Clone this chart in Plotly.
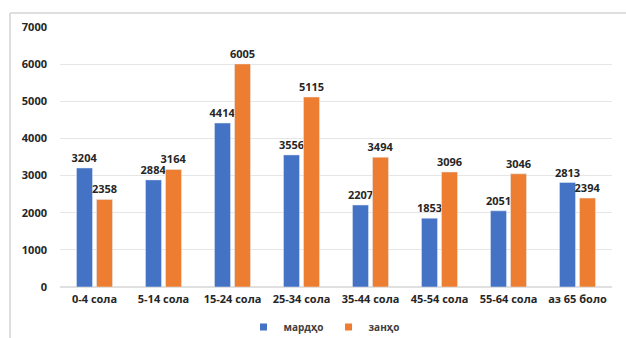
import plotly.graph_objects as go

categories = ["0-4 сола", "5-14 сола", "15-24 сола", "25-34 сола",
              "35-44 сола", "45-54 сола", "55-64 сола", "аз 65 боло"]
men = [3204, 2884, 4414, 3556, 2207, 1853, 2051, 2813]
women = [2358, 3164, 6005, 5115, 3494, 3096, 3046, 2394]
y_ticks = [0, 1000, 2000, 3000, 4000, 5000, 6000, 7000]
series_names = ["мардҳо", "занҳо"]
series_colors = ["#4472C4", "#ED7D31"]

W, H = 626, 338
ML, MR, MT, MB = 60, 14, 27, 51
PW, PH = W - ML - MR, H - MT - MB

font = dict(family="Open Sans, Arial, sans-serif", size=11, color="#262626", weight="bold")

fig = go.Figure()
for name, vals, col in zip(series_names, [men, women], series_colors):
    fig.add_trace(go.Bar(name=name, x=categories, y=vals, marker_color=col,
                         text=vals, textposition="outside", textfont=font,
                         constraintext="none", cliponaxis=False, showlegend=False))
# small square legend keys
for name, col in zip(series_names, series_colors):
    fig.add_trace(go.Scatter(name=name, x=[None], y=[None], mode="markers",
                             marker=dict(symbol="square", size=7, color=col)))


def px_x(p):
    return (p - ML) / PW


def px_y(p):
    return (H - MB - p) / PH


# thin frame around the chart area
frame = dict(type="line", xref="paper", yref="paper", line=dict(color="#d4d4d4", width=1.5))
fig.add_shape(x0=px_x(10), x1=px_x(640), y0=px_y(13), y1=px_y(13), **frame)
fig.add_shape(x0=px_x(10), x1=px_x(10), y0=px_y(13), y1=px_y(345), **frame)

fig.update_layout(
    width=W, height=H,
    margin=dict(l=ML, r=MR, t=MT, b=MB, autoexpand=False),
    paper_bgcolor="white", plot_bgcolor="white",
    barmode="group", bargap=0.42, bargroupgap=0.2,
    font=font,
    showlegend=True,
    legend=dict(orientation="h", x=px_x(324), xanchor="center", y=px_y(327), yanchor="middle",
                font=dict(family="Open Sans, Arial, sans-serif", size=10, color="#404040", weight="bold"),
                itemwidth=30, tracegroupgap=0, bgcolor="rgba(0,0,0,0)"),
    xaxis=dict(showgrid=False, showline=False, ticks="", tickfont=font, ticklabelstandoff=4),
    yaxis=dict(range=[0, 7000], tickvals=y_ticks, showgrid=True, gridcolor="#e6e6e6",
               zeroline=True, zerolinecolor="#e0e0e0", showline=False, ticks="",
               tickfont=font, ticklabelstandoff=12),
)

fig.write_html("out.html")
